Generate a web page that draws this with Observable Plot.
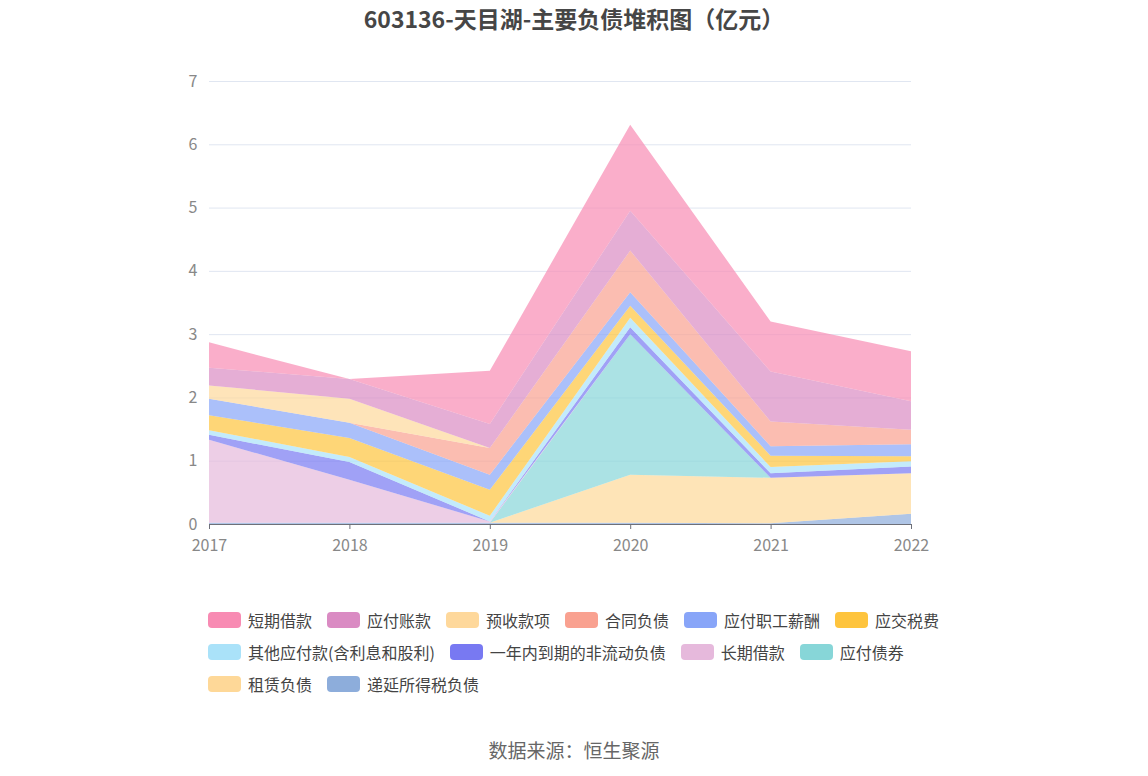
<!DOCTYPE html>
<html>
<head>
<meta charset="utf-8">
<script src="https://cdn.jsdelivr.net/npm/d3@7"></script>
<script src="https://cdn.jsdelivr.net/npm/@observablehq/plot@0.6"></script>
<style>
  html, body { margin: 0; padding: 0; background: #fff; }
  body { width: 1148px; height: 776px; position: relative; overflow: hidden;
         font-family: "Noto Sans CJK SC", "Noto Sans", sans-serif; }
  #title { position: absolute; top: 0; left: 0; width: 1148px; text-align: center;
           font-size: 23px; font-weight: bold; color: #464646; line-height: 36px; }
  #chart { position: absolute; top: 0; left: 0; }
  #legend { position: absolute; left: 208px; top: 604px; width: 760px;
            display: flex; flex-wrap: wrap; column-gap: 15px; }
  .item { display: flex; align-items: center; height: 32px; font-size: 16px; color: #444; white-space: nowrap; }
  .sw { width: 33px; height: 16px; border-radius: 4px; margin-right: 7px; }
  #caption { position: absolute; top: 734px; left: 0; width: 1148px; text-align: center;
             font-size: 19px; color: #666; line-height: 32px; }
</style>
</head>
<body>
<div id="title">603136-天目湖-主要负债堆积图（亿元）</div>
<div id="chart"></div>
<div id="legend"></div>
<div id="caption">数据来源：恒生聚源</div>
<script>
const years = [2017, 2018, 2019, 2020, 2021, 2022];
const yTicks = [0, 1, 2, 3, 4, 5, 6, 7];

// legend order
const legendNames = ["短期借款", "应付账款", "预收款项", "合同负债", "应付职工薪酬", "应交税费",
  "其他应付款(含利息和股利)", "一年内到期的非流动负债", "长期借款", "应付债券", "租赁负债", "递延所得税负债"];
const legendColors = ["#f88bb3", "#da8bc3", "#fed89b", "#f9a190", "#88a5f8", "#fec43d",
  "#aae2f9", "#7879f2", "#e6b9dc", "#87d6d8", "#fed898", "#8daddb"];

// series values (亿元), per year 2017..2022
const 短期借款 = [0.40, 0.00, 0.84, 1.36, 0.79, 0.79];
const 应付账款 = [0.28, 0.31, 0.38, 0.63, 0.79, 0.45];
const 预收款项 = [0.21, 0.38, 0.00, 0.00, 0.00, 0.00];
const 合同负债 = [0.00, 0.00, 0.42, 0.66, 0.39, 0.23];
const 应付职工薪酬 = [0.26, 0.24, 0.24, 0.21, 0.15, 0.19];
const 应交税费 = [0.24, 0.30, 0.41, 0.19, 0.18, 0.08];
const 其他应付款 = [0.07, 0.08, 0.09, 0.15, 0.10, 0.08];
const 一年内到期的非流动负债 = [0.08, 0.28, 0.00, 0.11, 0.07, 0.11];
const 长期借款 = [1.31, 0.68, 0.02, 0.00, 0.00, 0.00];
const 应付债券 = [0.00, 0.00, 0.00, 2.22, 0.00, 0.00];
const 租赁负债 = [0.00, 0.00, 0.00, 0.76, 0.72, 0.64];
const 递延所得税负债 = [0.02, 0.02, 0.02, 0.02, 0.01, 0.16];

const seriesValues = [短期借款, 应付账款, 预收款项, 合同负债, 应付职工薪酬, 应交税费,
  其他应付款, 一年内到期的非流动负债, 长期借款, 应付债券, 租赁负债, 递延所得税负债];

// stacking order: bottom to top
const stackOrder = legendNames.slice().reverse();

const rows = [];
for (const name of stackOrder) {
  const vals = seriesValues[legendNames.indexOf(name)];
  years.forEach((yr, i) => rows.push({ year: yr, name, value: vals[i] }));
}

const chart = Plot.plot({
  width: 1148,
  height: 560,
  marginTop: 81,
  marginBottom: 36,
  marginLeft: 209,
  marginRight: 237,
  style: { fontFamily: '"Noto Sans CJK SC", "Noto Sans", sans-serif', fontSize: "16px", background: "transparent" },
  x: { domain: [2017, 2022], label: null },
  y: { domain: [0, 7], label: null },
  color: { domain: legendNames, range: legendColors },
  marks: [
    Plot.gridY(yTicks, { stroke: "#E0E6F1", strokeOpacity: 1 }),
    Plot.areaY(rows, { x: "year", y: "value", z: "name", fill: "name", order: stackOrder, fillOpacity: 0.7 }),
    Plot.ruleY([0], { stroke: "#6E7079", strokeWidth: 1 }),
    Plot.axisY(yTicks, { tickSize: 0, tickPadding: 12, color: "#888", fontSize: 16, label: null, tickFormat: d => String(d) }),
    Plot.axisX(years, { tickSize: 5, tickPadding: 10, stroke: "#6E7079", fill: "#888", fontSize: 16, label: null, tickFormat: d => String(d) })
  ]
});
document.getElementById("chart").appendChild(chart);

const legend = document.getElementById("legend");
legendNames.forEach((n, i) => {
  const it = document.createElement("div");
  it.className = "item";
  const sw = document.createElement("div");
  sw.className = "sw";
  sw.style.background = legendColors[i];
  const tx = document.createElement("span");
  tx.textContent = n;
  it.appendChild(sw);
  it.appendChild(tx);
  legend.appendChild(it);
});
</script>
</body>
</html>
